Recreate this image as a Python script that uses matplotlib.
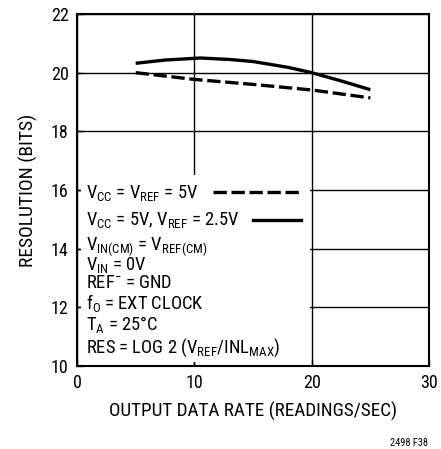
import matplotlib
matplotlib.use("Agg")
import matplotlib.pyplot as plt
from matplotlib.patches import Rectangle

# ---- data ----
x_solid = [5, 7.5, 10.5, 13, 15, 18, 20, 22.5, 25]
y_solid = [20.32, 20.43, 20.50, 20.45, 20.38, 20.18, 20.0, 19.72, 19.42]
x_dash = [5, 10, 15, 20, 25]
y_dash = [20.0, 19.77, 19.6, 19.41, 19.14]
xticks = [0, 10, 20, 30]
yticks = [10, 12, 14, 16, 18, 20, 22]

fam = "Roboto Condensed"
plt.rcParams['font.family'] = [fam, 'DejaVu Sans']
plt.rcParams['mathtext.fontset'] = 'custom'
plt.rcParams['mathtext.rm'] = fam
plt.rcParams['mathtext.it'] = fam
plt.rcParams['mathtext.default'] = 'regular'

fig = plt.figure(figsize=(4.41, 4.49), dpi=100)
ax = fig.add_axes([77/441, 1-366/449, 352/441, 352/449])
ax.set_xlim(0, 30)
ax.set_ylim(10, 22)
ax.set_xticks(xticks)
ax.set_yticks(yticks)
ax.tick_params(direction='in', length=4, width=1, labelsize=13, pad=6)
for s in ax.spines.values():
    s.set_linewidth(1.5)
ax.grid(True, color='black', linewidth=1)
ax.set_axisbelow(True)

ax.add_patch(Rectangle((0.012, 0.011), 0.65, 0.532, transform=ax.transAxes,
                       facecolor='white', edgecolor='none', zorder=1))

ax.plot(x_solid, y_solid, color='black', lw=2.4, zorder=3, solid_capstyle='butt')
ax.plot(x_dash, y_dash, color='black', lw=2.4, dashes=(4, 1.4), zorder=3)

ax.plot([11.6, 19.1], [15.93, 15.93], color='black', lw=2.4, dashes=(4, 1.4), zorder=3)
ax.plot([15.0, 19.1], [14.98, 14.98], color='black', lw=2.4, zorder=3)

fs = 13.3
lines = [
    (15.73, r'$V_{CC}$ = $V_{REF}$ = 5V'),
    (14.81, r'$V_{CC}$ = 5V, $V_{REF}$ = 2.5V'),
    (13.95, r'$V_{IN(CM)}$ = $V_{REF(CM)}$'),
    (13.27, r'$V_{IN}$ = 0V'),
    (12.66, r'REF$^{-}$ = GND'),
    (11.94, r'$f_{O}$ = EXT CLOCK'),
    (11.23, r'$T_{A}$ = 25°C'),
    (10.44, r'RES = LOG 2 ($V_{REF}$/IN$L_{MAX}$)'),
]
for y, t in lines:
    ax.text(0.77, y, t, fontsize=fs, va='baseline', ha='left', zorder=4)

ax.set_xlabel('OUTPUT DATA RATE (READINGS/SEC)', fontsize=13.8, labelpad=7)
ax.set_ylabel('RESOLUTION (BITS)', fontsize=14, labelpad=9)
fig.text(428/441, 1-443/449, '2498 F38', fontsize=7.5, ha='right', va='center')

fig.savefig('out.png', dpi=100)
